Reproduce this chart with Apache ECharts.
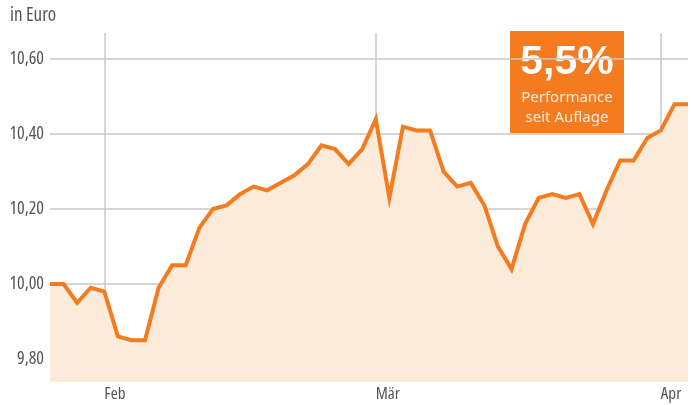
<!DOCTYPE html>
<html>
<head>
<meta charset="utf-8">
<script src="https://cdn.jsdelivr.net/npm/echarts@6/dist/echarts.min.js"></script>
<style>html,body{margin:0;padding:0;background:#fff}#c{width:691px;height:405px}</style>
</head>
<body>
<div id="c"></div>
<script>
// Trading days (category axis)
const dates = [
  '2019-01-28','2019-01-29','2019-01-30','2019-01-31',
  '2019-02-01','2019-02-04','2019-02-05','2019-02-06','2019-02-07','2019-02-08',
  '2019-02-11','2019-02-12','2019-02-13','2019-02-14','2019-02-15',
  '2019-02-18','2019-02-19','2019-02-20','2019-02-21','2019-02-22',
  '2019-02-25','2019-02-26','2019-02-27','2019-02-28',
  '2019-03-01','2019-03-04','2019-03-05','2019-03-06','2019-03-07','2019-03-08',
  '2019-03-11','2019-03-12','2019-03-13','2019-03-14','2019-03-15',
  '2019-03-18','2019-03-19','2019-03-20','2019-03-21','2019-03-22',
  '2019-03-25','2019-03-26','2019-03-27','2019-03-28','2019-03-29',
  '2019-04-01','2019-04-02','2019-04-03'
];
const prices = [
  10.00,10.00,9.95,9.99,9.98,9.86,9.85,9.85,9.99,10.05,
  10.05,10.15,10.20,10.21,10.24,10.26,10.25,10.27,10.29,10.32,
  10.37,10.36,10.32,10.36,10.44,10.23,10.42,10.41,10.41,10.30,
  10.26,10.27,10.21,10.10,10.04,10.16,10.23,10.24,10.23,10.24,
  10.16,10.25,10.33,10.33,10.39,10.41,10.48,10.48
];
const monthTicks = ['2019-02-01','2019-03-01','2019-04-01'];
const monthNames = ['Feb','Mär','Apr'];
const yTicks = [9.8, 10.0, 10.2, 10.4, 10.6];
const unitLabel = 'in Euro';
const badgeValue = '5,5%';
const badgeLines = ['Performance', 'seit Auflage'];

const chart = echarts.init(document.getElementById('c'), null, {renderer: 'canvas'});
const gridCol = '#c9c9c9';
const txtCol = '#555555';
const cond = "'Open Sans', sans-serif";

chart.setOption({
  animation: false,
  grid: {left: 50, right: 3, top: 33, bottom: 23, containLabel: false, outerBoundsMode: 'none'},
  xAxis: {
    type: 'category',
    data: dates,
    boundaryGap: false,
    axisLine: {show: false},
    axisTick: {show: false},
    splitLine: {
      show: true,
      interval: (i, v) => monthTicks.includes(v),
      lineStyle: {color: gridCol, width: 1.5}
    },
    axisLabel: {
      interval: (i, v) => monthTicks.includes(v),
      formatter: v => monthNames[monthTicks.indexOf(v)] || '',
      align: 'left',
      margin: 4,
      color: txtCol,
      fontStyle: 'normal',
      fontWeight: 'condensed',
      fontFamily: cond,
      fontSize: 17,
      hideOverlap: false
    }
  },
  yAxis: {
    type: 'value',
    min: 9.7385,
    max: 10.670,
    axisLine: {show: false},
    axisTick: {show: false, customValues: yTicks},
    splitLine: {show: true, lineStyle: {color: gridCol, width: 1.5}},
    axisLabel: {
      customValues: yTicks,
      formatter: v => v.toFixed(2).replace('.', ','),
      margin: 6,
      color: txtCol,
      fontStyle: 'normal',
      fontWeight: 'condensed',
      fontFamily: cond,
      fontSize: 18
    }
  },
  series: [{
    type: 'line',
    data: prices,
    symbol: 'none',
    smooth: false,
    lineStyle: {color: '#f47b20', width: 4, join: 'miter'},
    areaStyle: {color: '#fdebd9', origin: 'start', opacity: 1},
    z: 3
  }],
  graphic: [
    {type: 'text', left: 10, top: 6, style: {text: unitLabel, fill: txtCol, font: "normal condensed 19px 'Open Sans', sans-serif"}},
    {type: 'group', left: 510, top: 31, z: 10, children: [
      {type: 'rect', shape: {x: 0, y: 0, width: 114, height: 102}, style: {fill: '#f47b20'}},
      {type: 'text', x: 57, y: 11, style: {text: badgeValue, fill: '#fff', font: "bold 41px 'Liberation Sans', Arial, sans-serif", textAlign: 'center', textVerticalAlign: 'top'}},
      {type: 'text', x: 57, y: 59, style: {text: badgeLines[0], fill: '#fdeee0', font: "15px 'Noto Sans', sans-serif", textAlign: 'center', textVerticalAlign: 'top'}},
      {type: 'text', x: 57, y: 79, style: {text: badgeLines[1], fill: '#fdeee0', font: "15px 'Noto Sans', sans-serif", textAlign: 'center', textVerticalAlign: 'top'}}
    ]}
  ]
});
</script>
</body>
</html>
